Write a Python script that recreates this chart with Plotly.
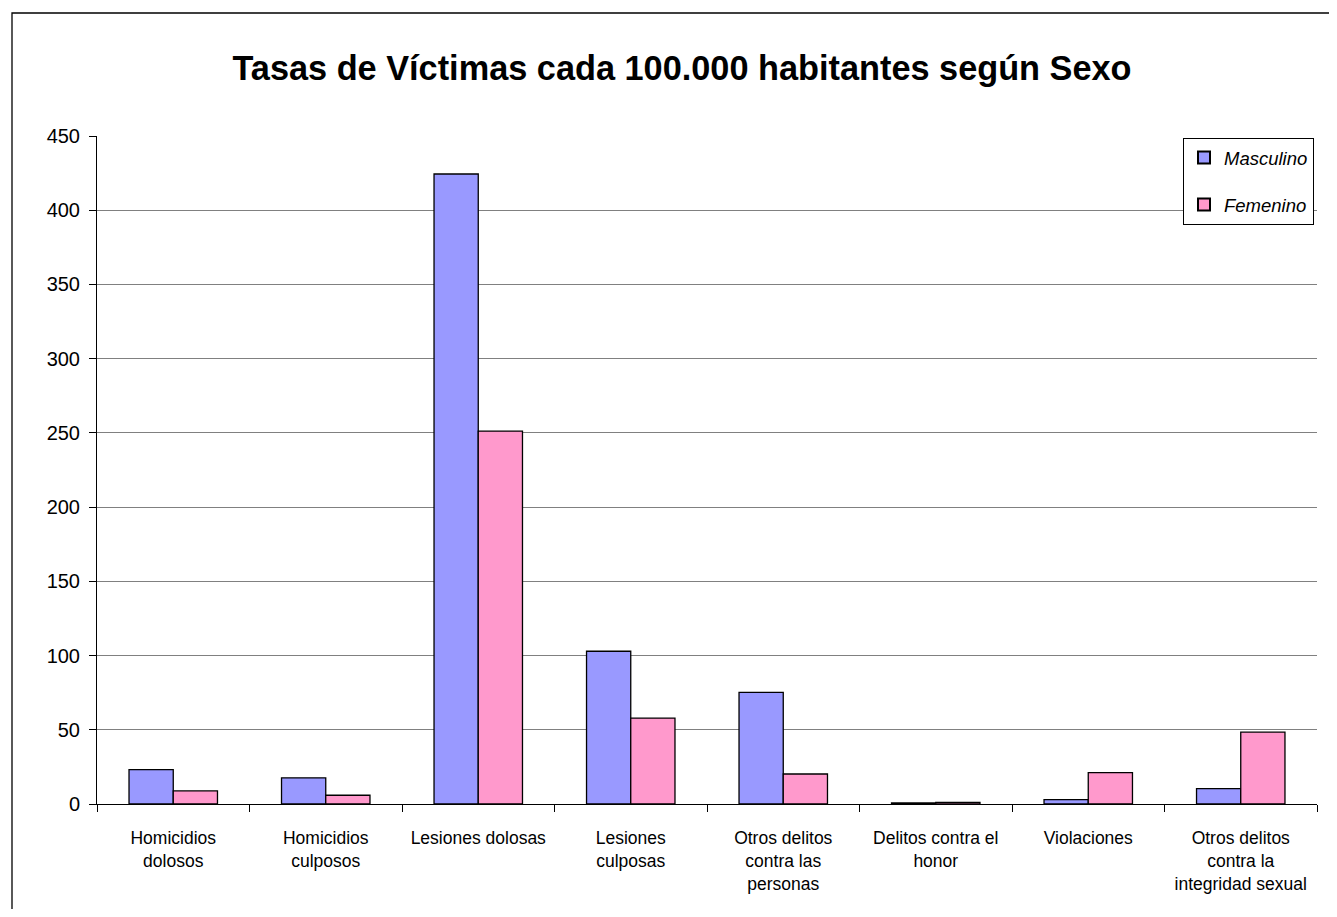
import plotly.graph_objects as go

categories = ["Homicidios<br>dolosos", "Homicidios<br>culposos", "Lesiones dolosas",
              "Lesiones<br>culposas", "Otros delitos<br>contra las<br>personas",
              "Delitos contra el<br>honor", "Violaciones",
              "Otros delitos<br>contra la<br>integridad sexual"]
masculino = [23.1, 17.6, 424.4, 102.9, 75.2, 0.7, 3.0, 10.4]
femenino = [8.8, 5.9, 251.2, 57.9, 20.2, 1.1, 21.2, 48.4]
y_ticks = [0, 50, 100, 150, 200, 250, 300, 350, 400, 450]

# page body has an 8px margin; work in figure coordinates
OFF = 8
W, H = 1337 - 2 * OFF, 917 - 2 * OFF
L, T = 97 - OFF, 136 - OFF
PR, PB = 1317 - OFF, 804 - OFF
R, B = W - PR, H - PB
pw, ph = PR - L, PB - T

FONT = "Liberation Sans, Arial, sans-serif"

fig = go.Figure()
fig.add_trace(go.Bar(x=categories, y=masculino, name="<i>Masculino</i>", legendgroup="m",
                     marker=dict(color="#9999FF", line=dict(color="#000000", width=1.3))))
fig.add_trace(go.Bar(x=categories, y=femenino, name="<i>Femenino</i>", legendgroup="f",
                     marker=dict(color="#FF99CC", line=dict(color="#000000", width=1.3))))

fig.update_layout(
    width=W, height=H,
    margin=dict(l=L, r=R, t=T, b=B, autoexpand=False),
    paper_bgcolor="white", plot_bgcolor="white",
    barmode="group", bargap=0.42, bargroupgap=0,
    font=dict(family=FONT, color="#000000"),
    title=dict(text="<b>Tasas de Víctimas cada 100.000 habitantes según Sexo</b>",
               x=(682 - OFF) / W, xanchor="center", y=1 - (68 - OFF) / H, yanchor="middle",
               font=dict(size=34.3, family=FONT)),
    legend=dict(x=(1183 - OFF - L) / pw, xanchor="left", y=1 - (138 - OFF - T) / ph, yanchor="top",
                bgcolor="white", bordercolor="#000000", borderwidth=1,
                font=dict(size=18.5, family=FONT),
                tracegroupgap=20, itemsizing="constant"),
    showlegend=True,
)
fig.update_yaxes(range=[0, 450], tickvals=y_ticks, showgrid=True, gridcolor="#808080",
                 gridwidth=1, showline=True, linecolor="#000000", linewidth=1,
                 ticks="outside", ticklen=7, tickcolor="#000000", ticklabelstandoff=5,
                 tickfont=dict(size=20, family=FONT),
                 zeroline=False)
fig.update_xaxes(showline=True, linecolor="#000000", linewidth=1, ticks="outside",
                 tickson="boundaries", ticklen=7, tickcolor="#000000", ticklabelstandoff=18,
                 tickfont=dict(size=17.5, family=FONT),
                 showgrid=False, mirror=False)
fig.add_shape(type="rect", xref="paper", yref="paper",
              x0=(12 - OFF - L) / pw, x1=(W + 20 - L) / pw,
              y0=-(H + 20 - PB) / ph, y1=1 + (T - (13 - OFF)) / ph,
              line=dict(color="#000000", width=1.3), layer="below")
fig.write_html("out.html")
